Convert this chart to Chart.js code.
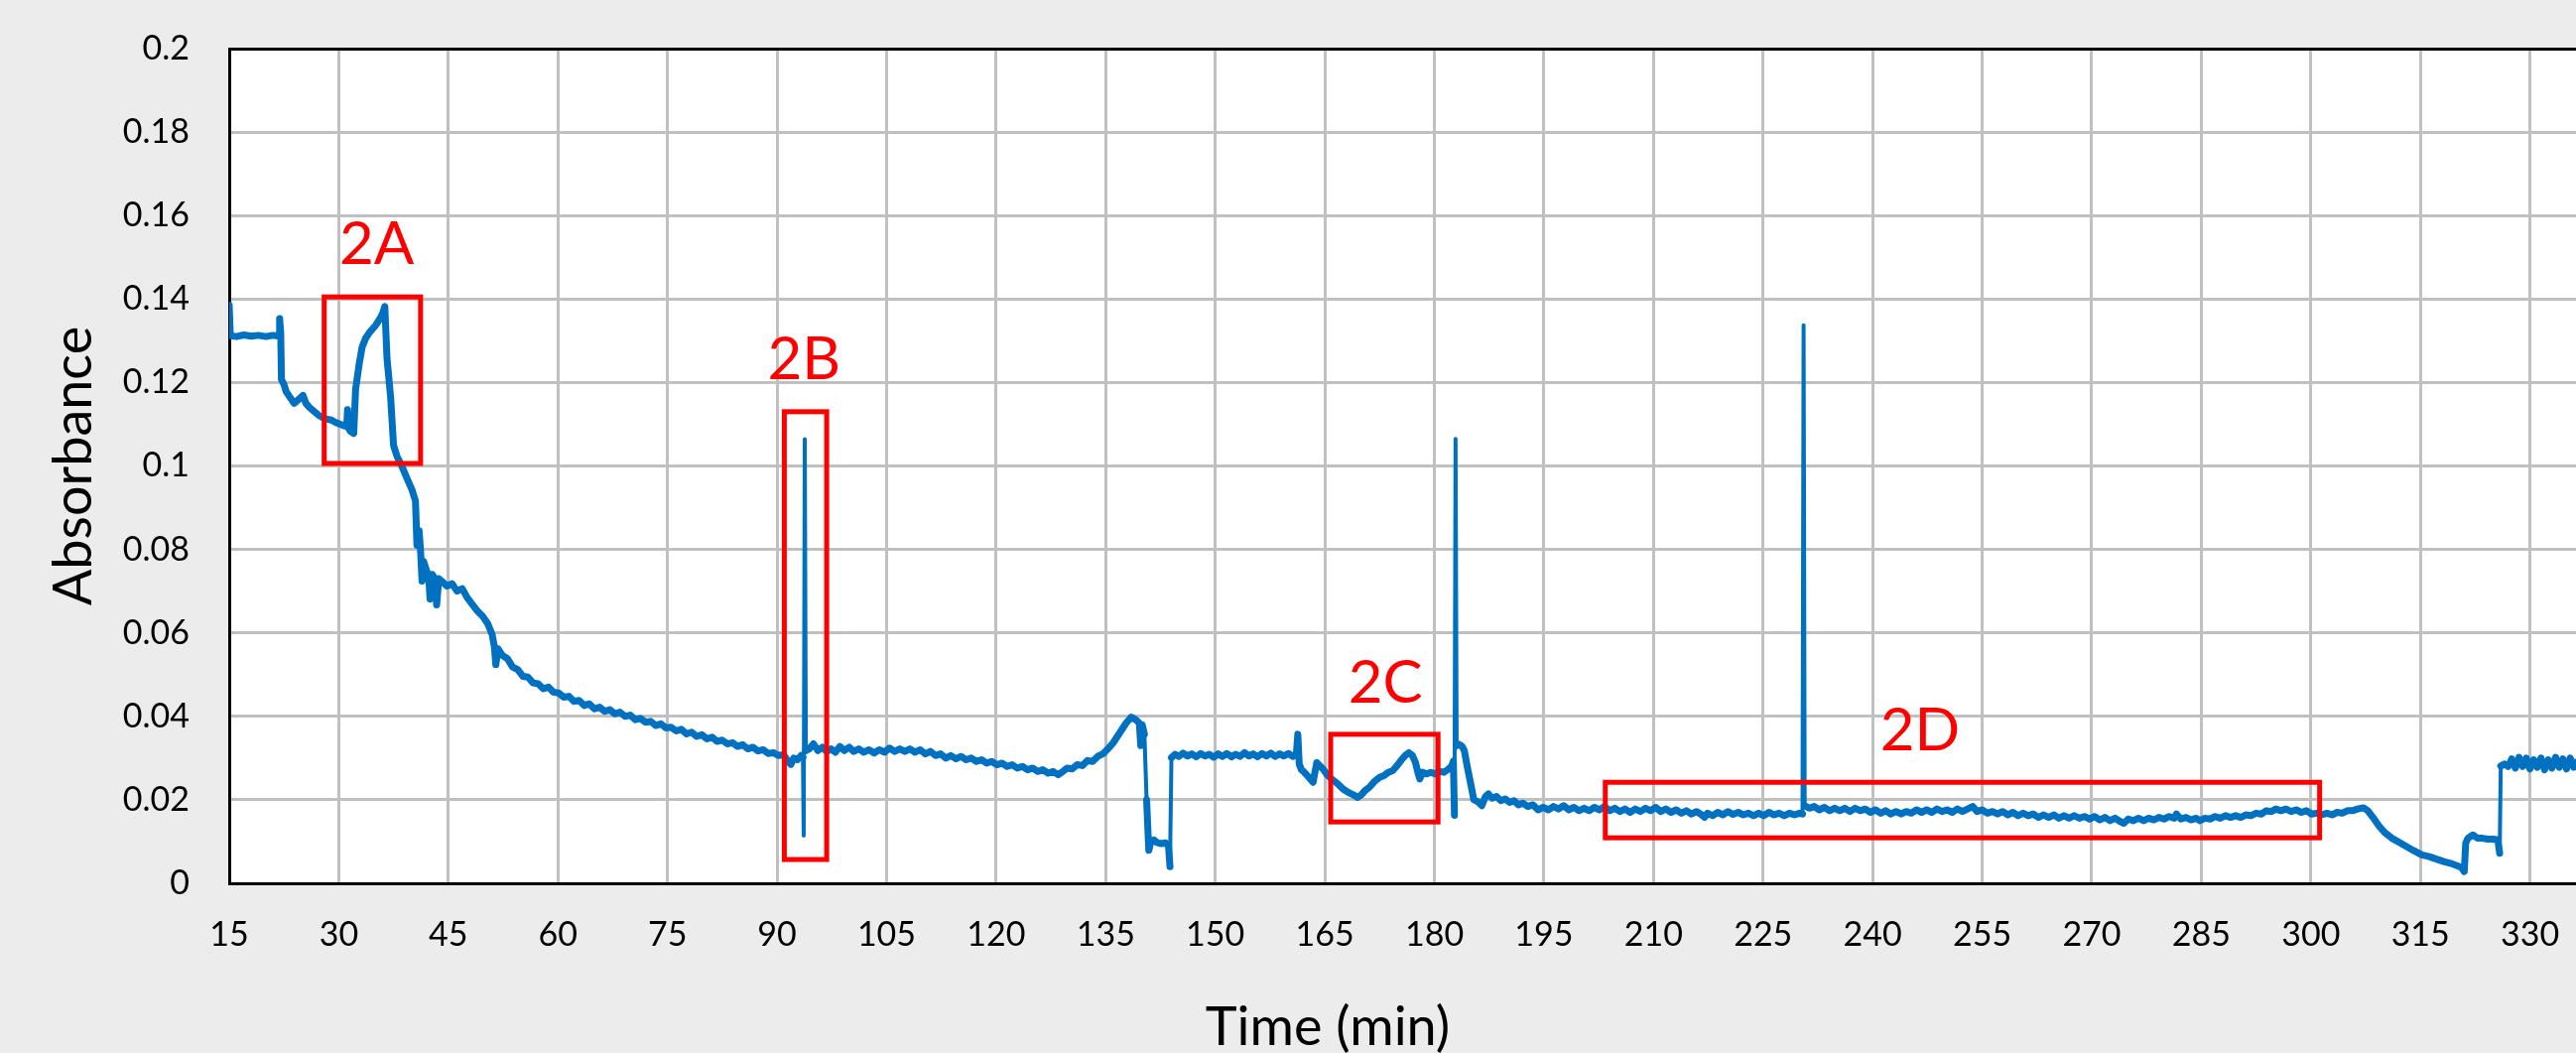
<!DOCTYPE html>
<html>
<head>
<meta charset="utf-8">
<script src="https://cdn.jsdelivr.net/npm/chart.js@4.4.1/dist/chart.umd.min.js"></script>
<style>
  html, body { margin: 0; padding: 0; background: #ececec; }
  canvas { display: block; }
</style>
</head>
<body>
<canvas id="absChart" width="2596" height="1061"></canvas>
<script>
const timeMin = [
  15.0, 15.15, 16.0, 17.0, 18.0, 19.0, 20.0, 21.0,
  21.8, 21.9, 22.05, 22.15, 22.5, 22.8, 23.3, 23.9,
  24.4, 25.1, 25.5, 26.0, 26.6, 27.2, 27.8, 28.4,
  29.0, 29.6, 30.2, 30.8, 31.1, 31.2, 31.35, 31.6,
  32.05, 32.3, 32.8, 33.2, 33.7, 34.3, 35.0, 35.6,
  36.0, 36.3, 36.6, 37.1, 37.5, 38.0, 38.6, 39.3,
  40.0, 40.5, 40.7, 41.0, 41.2, 41.4, 41.6, 42.0,
  42.3, 42.5, 42.8, 43.2, 43.4, 43.7, 44.1, 44.8,
  45.5, 46.2, 46.9, 47.6, 48.3, 49.0, 49.7, 50.4,
  51.0, 51.3, 51.5, 51.8, 52.4, 53.1, 53.8, 54.5,
  55.2, 55.9, 56.6, 57.3, 58.0, 58.7, 59.4, 60.1,
  60.8, 61.5, 62.2, 62.9, 63.6, 64.3, 65.0, 65.7,
  66.4, 67.1, 67.8, 68.5, 69.2, 69.9, 70.6, 71.3,
  72.0, 72.7, 73.4, 74.1, 74.8, 75.5, 76.2, 76.9,
  77.6, 78.3, 79.0, 79.7, 80.4, 81.1, 81.8, 82.5,
  83.2, 83.9, 84.6, 85.3, 86.0, 86.7, 87.4, 88.1,
  88.8, 89.5, 90.2, 90.9, 91.5, 91.9, 92.3, 92.8,
  93.3, 93.55, 93.65, 93.8, 93.95, 94.4, 95.0, 95.6,
  96.2, 96.8, 97.4, 98.0, 98.6, 99.2, 99.9, 100.5,
  101.2, 101.9, 102.6, 103.3, 104.0, 104.7, 105.4, 106.1,
  106.8, 107.5, 108.2, 108.9, 109.6, 110.3, 111.0, 111.7,
  112.4, 113.1, 113.8, 114.5, 115.2, 115.9, 116.6, 117.3,
  118.0, 118.7, 119.4, 120.1, 120.8, 121.5, 122.2, 122.9,
  123.6, 124.3, 125.0, 125.7, 126.4, 127.1, 127.8, 128.5,
  129.0, 129.7, 130.4, 131.1, 131.8, 132.5, 133.2, 133.9,
  134.6, 135.3, 136.0, 136.6, 137.2, 137.8, 138.5, 139.1,
  139.6, 139.8, 140.0, 140.3, 140.6, 140.9, 141.2, 141.6,
  142.0, 142.6, 143.2, 143.6, 143.8, 144.0, 144.5, 145.0,
  145.6, 146.2, 146.8, 147.4, 148.0, 148.6, 149.2, 149.8,
  150.4, 151.0, 151.6, 152.2, 152.8, 153.4, 154.0, 154.6,
  155.2, 155.8, 156.4, 157.0, 157.6, 158.2, 158.8, 159.4,
  160.0, 160.6, 161.1, 161.3, 161.5, 161.8, 162.2, 162.6,
  163.0, 163.4, 163.6, 163.9, 164.3, 164.8, 165.3, 165.8,
  166.2, 166.8, 167.5, 168.2, 168.9, 169.5, 170.0, 170.5,
  171.1, 171.8, 172.5, 173.1, 173.7, 174.3, 174.9, 175.5,
  176.0, 176.5, 177.0, 177.4, 177.8, 178.0, 178.4, 178.9,
  179.5, 180.1, 180.7, 181.3, 181.9, 182.4, 182.6, 182.75,
  182.9, 183.05, 183.4, 183.8, 184.1, 184.5, 185.0, 185.4,
  185.9, 186.5, 187.0, 187.4, 187.9, 188.5, 189.1, 189.7,
  190.3, 190.9, 191.5, 192.1, 192.8, 193.5, 194.2, 194.9,
  195.6, 196.3, 197.0, 197.7, 198.4, 199.1, 199.8, 200.5,
  201.2, 201.9, 202.6, 203.3, 204.0, 204.7, 205.4, 206.1,
  206.8, 207.5, 208.2, 208.9, 209.6, 210.3, 211.0, 211.7,
  212.4, 213.1, 213.8, 214.5, 215.2, 215.9, 216.6, 217.0,
  217.4, 218.1, 218.8, 219.5, 220.2, 220.9, 221.6, 222.3,
  223.0, 223.7, 224.4, 225.1, 225.8, 226.5, 227.2, 227.9,
  228.6, 229.3, 230.0, 230.4, 230.55, 230.7, 231.3, 232.0,
  232.7, 233.4, 234.1, 234.8, 235.5, 236.2, 236.9, 237.6,
  238.3, 239.0, 239.7, 240.4, 241.1, 241.8, 242.5, 243.2,
  243.9, 244.6, 245.3, 246.0, 246.7, 247.4, 248.1, 248.8,
  249.5, 250.2, 250.9, 251.6, 252.3, 253.0, 253.7, 254.3,
  255.0, 255.7, 256.4, 257.1, 257.8, 258.5, 259.2, 259.9,
  260.6, 261.3, 262.0, 262.7, 263.4, 264.1, 264.8, 265.5,
  266.2, 266.9, 267.6, 268.3, 269.0, 269.7, 270.4, 271.1,
  271.8, 272.5, 273.2, 273.9, 274.4, 275.0, 275.7, 276.4,
  277.1, 277.8, 278.5, 279.2, 279.9, 280.6, 281.3, 281.6,
  282.2, 282.9, 283.6, 284.3, 284.8, 285.5, 286.2, 286.9,
  287.6, 288.3, 289.0, 289.7, 290.4, 291.1, 291.8, 292.5,
  293.2, 293.9, 294.6, 295.2, 295.9, 296.6, 297.3, 298.0,
  298.7, 299.4, 300.1, 300.8, 301.5, 302.2, 302.9, 303.6,
  304.3, 305.0, 305.7, 306.4, 307.2, 307.8, 308.5, 309.3,
  310.1, 311.1, 312.1, 313.1, 314.1, 315.2, 316.2, 317.2,
  318.2, 319.1, 320.0, 320.6, 321.0, 321.2, 321.5, 322.2,
  322.8, 323.5, 324.2, 324.9, 325.6, 325.85, 326.0, 326.5,
  327.0, 327.5, 328.0, 328.5, 329.0, 329.5, 330.0, 330.5,
  331.0, 331.5, 332.0, 332.5, 333.0, 333.5, 334.0, 334.5,
  335.0, 335.5, 336.0, 336.3
];

const absorbance = [
  0.1385, 0.1312, 0.1310, 0.1314, 0.1311, 0.1313, 0.1310, 0.1313,
  0.1311, 0.1353, 0.1320, 0.1207, 0.1195, 0.1178, 0.1165, 0.1150,
  0.1158, 0.1169, 0.1150, 0.1140, 0.1131, 0.1122, 0.1116, 0.1112,
  0.1110, 0.1104, 0.1100, 0.1096, 0.1100, 0.1135, 0.1090, 0.1083,
  0.1078, 0.1183, 0.1245, 0.1285, 0.1307, 0.1322, 0.1336, 0.1352,
  0.1365, 0.1382, 0.1259, 0.1164, 0.1049, 0.1022, 0.1001, 0.0972,
  0.0944, 0.0916, 0.0810, 0.0845, 0.0795, 0.0724, 0.0772, 0.0750,
  0.0738, 0.0681, 0.0740, 0.0728, 0.0667, 0.0730, 0.0724, 0.0712,
  0.0718, 0.0700, 0.0706, 0.0684, 0.0668, 0.0652, 0.0640, 0.0622,
  0.0596, 0.0567, 0.0524, 0.0562, 0.0546, 0.0538, 0.0518, 0.0512,
  0.0496, 0.0494, 0.0480, 0.0478, 0.0466, 0.0470, 0.0458, 0.0456,
  0.0446, 0.0448, 0.0436, 0.0438, 0.0426, 0.0430, 0.0418, 0.0422,
  0.0412, 0.0416, 0.0406, 0.0410, 0.0400, 0.0403, 0.0392, 0.0395,
  0.0386, 0.0388, 0.0378, 0.0382, 0.0372, 0.0374, 0.0365, 0.0369,
  0.0358, 0.0362, 0.0352, 0.0356, 0.0346, 0.0350, 0.0340, 0.0343,
  0.0334, 0.0337, 0.0328, 0.0332, 0.0322, 0.0326, 0.0317, 0.0320,
  0.0311, 0.0313, 0.0306, 0.0308, 0.0292, 0.0285, 0.0300, 0.0296,
  0.0306, 0.0302, 0.0114, 0.1064, 0.0318, 0.0322, 0.0334, 0.0318,
  0.0326, 0.0316, 0.0322, 0.0314, 0.0328, 0.0318, 0.0326, 0.0316,
  0.0322, 0.0314, 0.0320, 0.0312, 0.0320, 0.0314, 0.0324, 0.0316,
  0.0322, 0.0316, 0.0322, 0.0314, 0.0320, 0.0310, 0.0316, 0.0306,
  0.0310, 0.0300, 0.0306, 0.0298, 0.0304, 0.0296, 0.0300, 0.0292,
  0.0296, 0.0288, 0.0292, 0.0284, 0.0288, 0.0280, 0.0284, 0.0276,
  0.0280, 0.0272, 0.0276, 0.0268, 0.0272, 0.0264, 0.0268, 0.0260,
  0.0266, 0.0276, 0.0274, 0.0284, 0.0282, 0.0294, 0.0292, 0.0304,
  0.0310, 0.0322, 0.0336, 0.0352, 0.0368, 0.0384, 0.0398, 0.0392,
  0.0384, 0.0330, 0.0380, 0.0357, 0.0200, 0.0079, 0.0100, 0.0104,
  0.0098, 0.0095, 0.0097, 0.0090, 0.0040, 0.0301, 0.0309, 0.0304,
  0.0312, 0.0305, 0.0310, 0.0303, 0.0311, 0.0305, 0.0309, 0.0302,
  0.0310, 0.0304, 0.0311, 0.0303, 0.0309, 0.0304, 0.0313, 0.0305,
  0.0310, 0.0303, 0.0311, 0.0305, 0.0312, 0.0304, 0.0310, 0.0305,
  0.0311, 0.0304, 0.0309, 0.0357, 0.0285, 0.0272, 0.0266, 0.0258,
  0.0250, 0.0242, 0.0262, 0.0289, 0.0282, 0.0273, 0.0260, 0.0252,
  0.0246, 0.0238, 0.0226, 0.0218, 0.0212, 0.0206, 0.0212, 0.0222,
  0.0230, 0.0244, 0.0254, 0.0258, 0.0266, 0.0270, 0.0282, 0.0296,
  0.0306, 0.0313, 0.0306, 0.0290, 0.0262, 0.0250, 0.0266, 0.0262,
  0.0266, 0.0262, 0.0268, 0.0266, 0.0273, 0.0282, 0.0293, 0.0163,
  0.1065, 0.0330, 0.0333, 0.0328, 0.0318, 0.0280, 0.0236, 0.0200,
  0.0196, 0.0186, 0.0208, 0.0214, 0.0204, 0.0208, 0.0198, 0.0202,
  0.0194, 0.0198, 0.0188, 0.0192, 0.0184, 0.0188, 0.0176, 0.0182,
  0.0176, 0.0184, 0.0178, 0.0186, 0.0176, 0.0182, 0.0174, 0.0180,
  0.0174, 0.0182, 0.0176, 0.0184, 0.0174, 0.0180, 0.0172, 0.0178,
  0.0170, 0.0178, 0.0172, 0.0180, 0.0174, 0.0182, 0.0172, 0.0178,
  0.0170, 0.0176, 0.0168, 0.0174, 0.0166, 0.0172, 0.0164, 0.0158,
  0.0168, 0.0162, 0.0170, 0.0164, 0.0172, 0.0165, 0.0170, 0.0164,
  0.0168, 0.0162, 0.0168, 0.0162, 0.0170, 0.0164, 0.0168, 0.0162,
  0.0168, 0.0164, 0.0168, 0.0166, 0.1337, 0.0186, 0.0180, 0.0184,
  0.0176, 0.0182, 0.0174, 0.0180, 0.0174, 0.0180, 0.0172, 0.0180,
  0.0174, 0.0178, 0.0170, 0.0176, 0.0168, 0.0174, 0.0166, 0.0172,
  0.0166, 0.0172, 0.0168, 0.0176, 0.0170, 0.0176, 0.0170, 0.0178,
  0.0172, 0.0176, 0.0170, 0.0178, 0.0172, 0.0178, 0.0184, 0.0172,
  0.0176, 0.0168, 0.0172, 0.0166, 0.0172, 0.0164, 0.0170, 0.0162,
  0.0168, 0.0162, 0.0166, 0.0158, 0.0164, 0.0158, 0.0164, 0.0156,
  0.0162, 0.0156, 0.0162, 0.0156, 0.0160, 0.0154, 0.0160, 0.0152,
  0.0158, 0.0150, 0.0156, 0.0148, 0.0144, 0.0154, 0.0150, 0.0156,
  0.0150, 0.0156, 0.0152, 0.0158, 0.0154, 0.0160, 0.0156, 0.0166,
  0.0154, 0.0158, 0.0152, 0.0156, 0.0150, 0.0156, 0.0154, 0.0160,
  0.0156, 0.0162, 0.0158, 0.0162, 0.0158, 0.0164, 0.0162, 0.0168,
  0.0166, 0.0174, 0.0172, 0.0178, 0.0174, 0.0178, 0.0172, 0.0176,
  0.0170, 0.0174, 0.0166, 0.0168, 0.0164, 0.0168, 0.0164, 0.0170,
  0.0168, 0.0174, 0.0174, 0.0178, 0.0181, 0.0174, 0.0158, 0.0138,
  0.0122, 0.0108, 0.0098, 0.0088, 0.0078, 0.0068, 0.0064, 0.0058,
  0.0052, 0.0048, 0.0042, 0.0038, 0.0028, 0.0096, 0.0108, 0.0116,
  0.0108, 0.0108, 0.0106, 0.0106, 0.0104, 0.0072, 0.0281, 0.0286,
  0.0280, 0.0298, 0.0276, 0.0302, 0.0280, 0.0300, 0.0274, 0.0296,
  0.0278, 0.0300, 0.0272, 0.0296, 0.0276, 0.0302, 0.0278, 0.0298,
  0.0274, 0.0300, 0.0278, 0.0290
];

const xTickLabels = ["15", "30", "45", "60", "75", "90", "105", "120", "135", "150", "165",
  "180", "195", "210", "225", "240", "255", "270", "285", "300", "315", "330"];
const yTickLabels = ["0", "0.02", "0.04", "0.06", "0.08", "0.1", "0.12", "0.14", "0.16", "0.18", "0.2"];

// marked regions, in data units
const boxNames = ["2A", "2B", "2C", "2D"];
const boxTimeFrom = [28.0, 91.0, 165.8, 203.4];
const boxTimeTo = [41.2, 96.8, 180.5, 301.2];
const boxAbsFrom = [0.1006, 0.0057, 0.0147, 0.0109];
const boxAbsTo = [0.1405, 0.1130, 0.0357, 0.0242];
const nameTime = [35.2, 93.7, 173.3, 246.5];
const nameAbs = [0.1536, 0.1260, 0.0486, 0.0371];

Chart.defaults.font.family = "Lato";

const plotBackground = {
  id: "plotBackground",
  beforeDraw(chart) {
    const { ctx, chartArea: a } = chart;
    ctx.save();
    ctx.fillStyle = "#ffffff";
    ctx.fillRect(a.left, a.top, a.right - a.left, a.bottom - a.top);
    ctx.restore();
  }
};

const regionBoxes = {
  id: "regionBoxes",
  afterDatasetsDraw(chart) {
    const { ctx, scales: { x, y } } = chart;
    ctx.save();
    ctx.strokeStyle = "#ff0000";
    ctx.fillStyle = "#ff0000";
    ctx.lineWidth = 5;
    ctx.font = "60px Lato";
    ctx.textAlign = "center";
    ctx.textBaseline = "alphabetic";
    boxNames.forEach((name, i) => {
      const left = x.getPixelForValue(boxTimeFrom[i]);
      const right = x.getPixelForValue(boxTimeTo[i]);
      const top = y.getPixelForValue(boxAbsTo[i]);
      const bottom = y.getPixelForValue(boxAbsFrom[i]);
      ctx.strokeRect(left, top, right - left, bottom - top);
      ctx.fillText(name, x.getPixelForValue(nameTime[i]), y.getPixelForValue(nameAbs[i]) + 22);
    });
    ctx.restore();
  }
};

const axisTitles = {
  id: "axisTitles",
  afterDraw(chart) {
    const { ctx, chartArea: a } = chart;
    ctx.save();
    ctx.fillStyle = "#000000";
    ctx.font = "54px Lato";
    ctx.textAlign = "center";
    ctx.textBaseline = "alphabetic";
    ctx.fillText("Time (min)", 1338, 1053);
    ctx.translate(92, (a.top + a.bottom) / 2);
    ctx.rotate(-Math.PI / 2);
    ctx.fillText("Absorbance", 0, 0);
    ctx.restore();
  }
};

const points = timeMin.map((t, i) => ({ x: t, y: absorbance[i] }));

new Chart(document.getElementById("absChart"), {
  type: "line",
  data: {
    datasets: [{
      data: points,
      borderColor: "#0070c0",
      borderWidth: 7,
      borderJoinStyle: "round",
      borderCapStyle: "round",
      pointRadius: 0,
      tension: 0,
      fill: false,
      segment: {
        // the tall spikes are drawn thinner than the noisy baseline
        borderWidth: c => (Math.abs(c.p1.parsed.y - c.p0.parsed.y) > 0.015 ? 4 : 7)
      }
    }]
  },
  options: {
    responsive: false,
    animation: false,
    devicePixelRatio: 1,
    layout: { padding: { top: 49, left: 0, right: 0, bottom: 0 } },
    plugins: { legend: { display: false }, tooltip: { enabled: false } },
    scales: {
      x: {
        type: "linear",
        min: 15,
        max: 336.3,
        afterFit: s => { s.height = 171; s.paddingLeft = 0; s.paddingRight = 0; },
        ticks: {
          stepSize: 15,
          includeBounds: false,
          autoSkip: false,
          maxRotation: 0,
          padding: 32,
          color: "#000000",
          font: { size: 34 },
          callback: (v, i) => xTickLabels[i]
        },
        grid: { color: "#c0c0c0", lineWidth: 3, drawTicks: false },
        border: { color: "#000000", width: 3 }
      },
      y: {
        min: 0,
        max: 0.2,
        afterFit: s => { s.width = 231; s.paddingTop = 0; s.paddingBottom = 0; },
        ticks: {
          stepSize: 0.02,
          padding: 40,
          color: "#000000",
          font: { size: 34 },
          callback: (v, i) => yTickLabels[i]
        },
        grid: {
          color: c => (c.tick && c.tick.value > 0.1999 ? "#000000" : "#c0c0c0"),
          lineWidth: 3,
          drawTicks: false
        },
        border: { color: "#000000", width: 3 }
      }
    }
  },
  plugins: [plotBackground, regionBoxes, axisTitles]
});
</script>
</body>
</html>
